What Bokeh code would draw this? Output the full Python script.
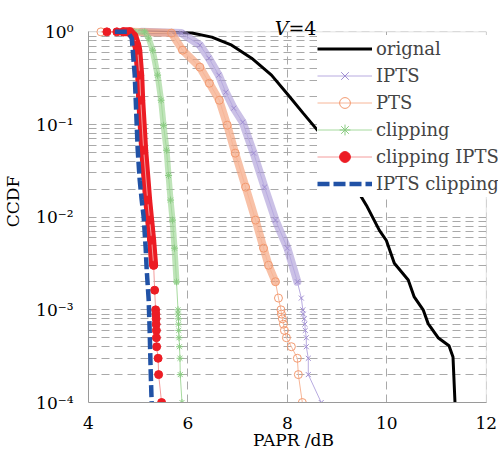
from bokeh.plotting import figure
from bokeh.models import (Label, Legend, LegendItem, CustomJSTickFormatter, FixedTicker,
                          BoxAnnotation)
from bokeh.embed import file_html
from bokeh.resources import INLINE

# ---- data (PAPR in dB, CCDF) ----
orig_x = [5.0, 6.08, 6.48, 6.88, 7.28, 7.68, 8.02, 8.32, 8.75, 9.15, 9.59, 9.85, 9.99, 10.15,
          10.43, 10.55, 10.73, 10.83, 11.03, 11.25, 11.33, 11.37]
orig_y = [1.0, 0.97, 0.877, 0.719, 0.52, 0.341, 0.207, 0.132, 0.07, 0.033, 0.0134, 0.0072, 0.0056,
          0.00318, 0.0021, 0.00138, 0.0010, 0.00071, 0.0005, 0.00041, 0.00031, 0.0001]

ipts_x = [5.07, 5.87, 6.24, 6.42, 6.62, 6.76, 6.92, 7.10, 7.32, 7.54, 7.76, 8.00, 8.20, 8.28,
          8.31, 8.32, 8.34, 8.35, 8.36, 8.38, 8.38, 8.42, 8.42, 8.68]
ipts_y = [1.0, 0.97, 0.719, 0.52, 0.341, 0.223, 0.15, 0.106, 0.0491, 0.0211, 0.0093, 0.00463,
          0.00201, 0.00134, 0.0010, 0.0009, 0.0008, 0.0007, 0.0006, 0.0005, 0.0004, 0.0003,
          0.0002, 0.0001]

pts_x = [4.25, 4.87, 5.67, 5.89, 6.24, 6.43, 6.63, 6.79, 6.95, 7.16, 7.36, 7.52, 7.62, 7.76,
         7.82, 7.87, 7.88, 7.90, 7.92, 7.94, 7.98, 8.08, 8.20, 8.22, 8.30]
pts_y = [1.0, 1.0, 0.97, 0.634, 0.416, 0.279, 0.183, 0.0984, 0.0491, 0.0211, 0.0093, 0.00463,
         0.00303, 0.00201, 0.00134, 0.0010, 0.0009, 0.0008, 0.0007, 0.0006, 0.0005, 0.0004,
         0.0003, 0.0002, 0.0001]

clip_x = [4.91, 5.13, 5.21, 5.29, 5.39, 5.46, 5.51, 5.57, 5.61, 5.65, 5.69, 5.73, 5.77, 5.80,
          5.80, 5.81, 5.81, 5.815, 5.82, 5.83, 5.84, 5.845, 5.88]
clip_y = [1.0, 1.0, 0.855, 0.634, 0.341, 0.183, 0.098, 0.0528, 0.0282, 0.0153, 0.0093, 0.00463,
          0.0020, 0.0010, 0.0009, 0.0008, 0.0007, 0.0006, 0.0005, 0.0004, 0.0003, 0.0002, 0.0001]

clipipts_x = [4.37, 4.57, 4.70, 4.83, 4.91, 4.97, 4.99, 5.03, 5.05, 5.11, 5.19, 5.23, 5.27, 5.31,
              5.33, 5.35, 5.355, 5.36, 5.36, 5.365, 5.365, 5.37, 5.40, 5.41, 5.47]
clipipts_y = [1.0, 1.0, 1.0, 1.0, 0.899, 0.718, 0.634, 0.341, 0.183, 0.0528, 0.0153, 0.0093,
              0.00565, 0.00303, 0.00163, 0.0010, 0.0009, 0.0008, 0.0007, 0.0006, 0.0005, 0.0004,
              0.0003, 0.0002, 0.0001]

iptsclip_x = [4.53, 4.79, 4.87, 4.89, 4.93, 4.95, 4.99, 5.03, 5.07, 5.11, 5.15, 5.17, 5.21, 5.23,
              5.25, 5.27]
iptsclip_y = [1.0, 1.0, 0.855, 0.634, 0.341, 0.183, 0.0528, 0.0251, 0.0153, 0.0100, 0.00463,
              0.00273, 0.00129, 0.0006, 0.000224, 0.0001]

x_ticks = [4, 6, 8, 10, 12]
y_ticks = [1e-4, 1e-3, 1e-2, 1e-1, 1.0]
legend_labels = ["orignal", "IPTS", "PTS", "clipping", "clipping IPTS", "IPTS clipping"]
title_var = "V"
title_rest = "=4"

FONT = "DejaVu Serif"
GRID = "#a9a9a9"
BORDER = "#9a9a9a"
DENSE = 0.0018  # above this CCDF the markers merge into a band

X0, X1 = x_ticks[0], x_ticks[-1]
Y0, Y1 = y_ticks[0], y_ticks[-1]

# the frame is extended to the right and above the axes box so that the legend and the
# title (which overhang the box in the reference) are not clipped
p = figure(width=498, height=454, x_range=(X0, 12.245), y_range=(Y0, 2.18), y_axis_type="log",
           output_backend="svg", toolbar_location=None, title=None,
           min_border_left=87, min_border_right=0, min_border_top=0, min_border_bottom=52)
p.background_fill_color = "white"
p.border_fill_color = "white"
p.outline_line_color = None

# axes
p.xaxis.ticker = FixedTicker(ticks=x_ticks)
minor = [k * t for t in y_ticks[:-1] for k in range(2, 10)]
p.yaxis.ticker = FixedTicker(ticks=y_ticks, minor_ticks=minor)
p.yaxis.formatter = CustomJSTickFormatter(code="""
const e = Math.round(Math.log10(tick));
const sup = {'0':'\u2070','1':'\u00b9','2':'\u00b2','3':'\u00b3','4':'\u2074','-':'\u207b'};
return '10' + String(e).split('').map(c => sup[c]).join('');
""")
for ax in (p.xaxis, p.yaxis):
    ax.axis_line_color = BORDER
    ax.major_tick_in = 0
    ax.major_tick_out = 0
    ax.minor_tick_in = 0
    ax.minor_tick_out = 0
    ax.major_label_text_font = FONT
    ax.major_label_text_font_size = "17px"
    ax.major_label_text_color = "black"
    ax.axis_label_text_font = FONT
    ax.axis_label_text_font_size = "17px"
    ax.axis_label_text_font_style = "normal"
    ax.axis_label_text_color = "black"
p.xaxis.bounds = (X0, X1)
p.yaxis.bounds = (Y0, Y1)
p.xaxis.major_label_standoff = 14
p.yaxis.major_label_standoff = 15
p.xaxis.axis_label = "PAPR /dB"
p.yaxis.axis_label = "CCDF"
p.xaxis.axis_label_standoff = -2
p.yaxis.axis_label_standoff = 10

p.xgrid.grid_line_color = GRID
p.xgrid.grid_line_dash = "8 5"
p.ygrid.grid_line_color = GRID
p.ygrid.grid_line_dash = "8 5"
p.ygrid.minor_grid_line_color = GRID
p.ygrid.minor_grid_line_dash = "8 5"

# white out the grid outside the axes box, then draw the box
p.add_layout(BoxAnnotation(left=X1, fill_color="white", fill_alpha=1, line_color=None,
                           level="underlay"))
p.add_layout(BoxAnnotation(bottom=Y1, fill_color="white", fill_alpha=1, line_color=None,
                           level="underlay"))
p.add_layout(BoxAnnotation(left=X0, right=X1, bottom=Y0, top=Y1, fill_alpha=0,
                           line_color=BORDER, line_width=1, level="underlay"))


def band(xs, ys, color, width, alpha, start=0):
    pairs = [(x, y) for x, y in list(zip(xs, ys))[start:] if y >= DENSE]
    p.line([a for a, _ in pairs], [b for _, b in pairs], line_color=color, line_width=width,
           line_alpha=alpha, line_cap="round", line_join="round")


# orignal
r_orig = p.line(orig_x, orig_y, line_color="black", line_width=3)

# IPTS
band(ipts_x, ipts_y, "#a997d6", 8, 0.6)
l_ipts = p.line(ipts_x, ipts_y, line_color="#b8abe0", line_width=1)
s_ipts = p.scatter(ipts_x, ipts_y, marker="x", size=7, line_color="#a08ed2", line_width=1)

# PTS
band(pts_x, pts_y, "#f4a078", 8, 0.65, start=1)
l_pts = p.line(pts_x, pts_y, line_color="#f7b698", line_width=1)
s_pts = p.scatter(pts_x, pts_y, marker="circle", size=8, line_color="#f39a70", line_width=1,
                  fill_color=None)

# clipping
band(clip_x, clip_y, "#95d28b", 6, 0.6)
l_clip = p.line(clip_x, clip_y, line_color="#a6da9e", line_width=1)
s_clip = p.scatter(clip_x, clip_y, marker="asterisk", size=7, line_color="#8acb82",
                   line_width=1)

# clipping IPTS
band(clipipts_x, clipipts_y, "#ec1c24", 9, 1.0, start=2)
l_ci = p.line(clipipts_x, clipipts_y, line_color="#f49c9c", line_width=1)
s_ci = p.scatter(clipipts_x, clipipts_y, marker="circle", size=8, line_color="#ec1c24",
                 fill_color="#ec1c24")

# IPTS clipping
r_ic = p.line(iptsclip_x, iptsclip_y, line_color="#2152a6", line_width=4.5, line_dash="12 4")

items = [
    LegendItem(label=legend_labels[0], renderers=[r_orig]),
    LegendItem(label=legend_labels[1], renderers=[l_ipts, s_ipts]),
    LegendItem(label=legend_labels[2], renderers=[l_pts, s_pts]),
    LegendItem(label=legend_labels[3], renderers=[l_clip, s_clip]),
    LegendItem(label=legend_labels[4], renderers=[l_ci, s_ci]),
    LegendItem(label=legend_labels[5], renderers=[r_ic]),
]
legend = Legend(items=items, location=(229, 205), padding=4, margin=0, spacing=0,
                glyph_width=55, glyph_height=27, label_height=27, label_standoff=4,
                label_text_font=FONT, label_text_font_size="18px",
                border_line_color=None, background_fill_color="white",
                background_fill_alpha=1.0)
p.add_layout(legend)

p.add_layout(Label(x=8.02, y=1.11, text=title_var, text_align="right",
                   text_baseline="alphabetic", text_font=FONT, text_font_style="italic",
                   text_font_size="19px", text_color="black"))
p.add_layout(Label(x=8.02, y=1.11, text=title_rest, text_align="left",
                   text_baseline="alphabetic", text_font=FONT, text_font_size="19px",
                   text_color="black"))

open("out.html", "w").write(file_html(p, INLINE))
